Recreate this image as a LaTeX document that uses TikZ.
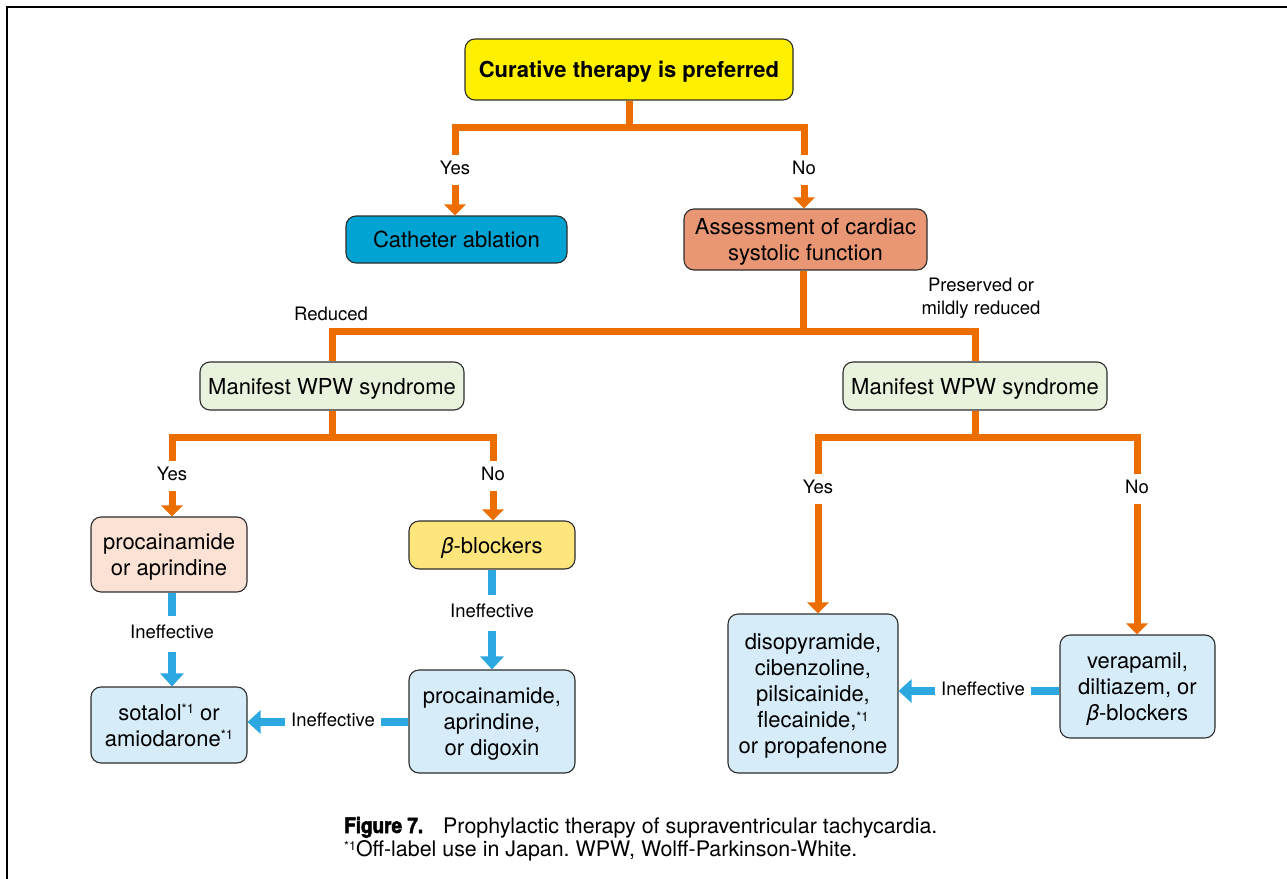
\documentclass[tikz,border=0pt]{standalone}
\usepackage{fontspec}
\setmainfont{TeX Gyre Heros}
\newfontfamily\figfont[FakeStretch=0.88,BoldFeatures={FakeBold=2.5}]{TeX Gyre Heros}
\usetikzlibrary{arrows.meta}
\frenchspacing

\definecolor{orangeC}{RGB}{236,110,0}
\definecolor{blueC}{RGB}{45,167,224}
\definecolor{boxline}{RGB}{45,45,45}
\definecolor{fillTop}{RGB}{255,240,0}
\definecolor{fillCath}{RGB}{0,163,210}
\definecolor{fillAssess}{RGB}{233,150,117}
\definecolor{fillGreen}{RGB}{232,242,221}
\definecolor{fillPeach}{RGB}{251,226,213}
\definecolor{fillBeta}{RGB}{254,229,124}
\definecolor{fillBlue}{RGB}{214,236,249}

% small raised "*1" footnote mark
\newcommand{\fnmk}{\raisebox{6.2pt}{\fontsize{13}{13}\selectfont *1}}
\newcommand{\capfnmk}{\raisebox{6pt}{\fontsize{12.5}{12.5}\selectfont *1}}

\tikzset{
  box/.style={draw=boxline, line width=1.1pt, rounded corners=10pt, align=center,
    inner sep=0pt, text depth=0pt, font=\fontsize{22}{26}\selectfont},
  lbl/.style={font=\fontsize{18.5}{23}\selectfont, inner xsep=6pt, inner ysep=6.5pt,
    text height=13.5pt, text depth=4pt},
  blbl/.style={lbl, inner ysep=9pt},
  freelbl/.style={font=\fontsize{18.5}{23}\selectfont, align=center, inner sep=0pt},
  oline/.style={draw=orangeC, line width=7pt, line join=miter},
  oarrow/.style={oline, -{Triangle[width=21pt,length=11pt]}},
  bline/.style={draw=blueC, line width=8.5pt},
  barrow/.style={bline, -{Triangle[width=23pt,length=13pt]}},
  captxt/.style={font=\fontsize{21.4}{23}\selectfont, inner sep=0pt, anchor=base west}
}

\begin{document}
\begin{tikzpicture}[x=1pt,y=-1pt]
\useasboundingbox (0,0) rectangle (1287,878);
% page frame
\draw[line width=2.6pt, line cap=rect] (7,878) -- (7,7) -- (1287,7);

% boxes
\node[box, fill=fillTop, minimum width=328pt, minimum height=61pt] (top) at (629,69.5)
  {\textbf{Curative therapy is preferred}};
\node[box, fill=fillCath, minimum width=221pt, minimum height=47pt] (cath) at (456.5,239.5)
  {Catheter ablation};
\node[box, fill=fillAssess, minimum width=243pt, minimum height=61pt] (assess) at (805.5,239.5)
  {Assessment of cardiac\\systolic function};
\node[box, fill=fillGreen, minimum width=264pt, minimum height=48pt] (wpwL) at (332,386)
  {Manifest WPW syndrome};
\node[box, fill=fillGreen, minimum width=264pt, minimum height=48pt] (wpwR) at (975,386)
  {Manifest WPW syndrome};
\node[box, fill=fillPeach, minimum width=156pt, minimum height=75pt] (proc) at (169,554.5)
  {procainamide\\or aprindine};
\node[box, fill=fillBeta, minimum width=166pt, minimum height=48pt] (beta) at (492,545)
  {\textit{β}-blockers};
\node[box, fill=fillBlue, minimum width=156pt, minimum height=76pt] (sot) at (169,725)
  {sotalol\fnmk{} or\\amiodarone\fnmk};
\node[box, fill=fillBlue, minimum width=166pt, minimum height=103pt] (pad) at (492,721.5)
  {procainamide,\\aprindine,\\or digoxin};
\node[box, fill=fillBlue, minimum width=170pt, minimum height=159pt] (diso) at (813,693.5)
  {disopyramide,\\cibenzoline,\\pilsicainide,\\flecainide,\fnmk\\or propafenone};
\node[box, fill=fillBlue, minimum width=155pt, minimum height=103pt] (vera) at (1137.5,686.5)
  {verapamil,\\diltiazem, or\\\textit{β}-blockers};

% branch labels
\node[lbl] (yes1) at (455,170) {Yes};
\node[lbl] (no1) at (804,170) {No};
\node[freelbl] (redu) at (331,314) {Reduced};
\node[freelbl] (pres) at (981,298) {Preserved or\\mildly reduced};
\node[lbl] (yes2) at (172,476) {Yes};
\node[lbl] (no2) at (493,476) {No};
\node[lbl] (yes3) at (818,489) {Yes};
\node[lbl] (no3) at (1137,489) {No};
\node[blbl] (inA) at (172,634) {Ineffective};
\node[blbl] (inB) at (492,613) {Ineffective};
\node[blbl] (inC) at (333,722) {Ineffective};
\node[blbl] (inD) at (983,691) {Ineffective};

% junction points
\coordinate (j1) at (629,127);
\coordinate (j2) at (803,331);
\coordinate (j3) at (332,437);
\coordinate (j4) at (975,437);

% orange decision tree
\draw[oline] (j1 |- top.south) -- (j1);
\draw[oline] (yes1.north) |- (j1) -| (no1.north);
\draw[oarrow] (yes1.south) -- (yes1.south |- cath.north);
\draw[oarrow] (no1.south) -- (no1.south |- assess.north);

\draw[oline] (j2 |- assess.south) -- (j2);
\draw[oline] (wpwL.north) |- (j2) -| (wpwR.north);

\draw[oline] (j3 |- wpwL.south) -- (j3);
\draw[oline] (yes2.north) |- (j3) -| (no2.north);
\draw[oarrow] (yes2.south) -- (yes2.south |- proc.north);
\draw[oarrow] (no2.south) -- (no2.south |- beta.north);

\draw[oline] (j4 |- wpwR.south) -- (j4);
\draw[oline] (yes3.north) |- (j4) -| (no3.north);
\draw[oarrow] (yes3.south) -- (yes3.south |- diso.north);
\draw[oarrow] (no3.south) -- (no3.south |- vera.north);

% blue escalation arrows
\draw[bline] (inA |- proc.south) -- (inA.north);
\draw[barrow] (inA.south) -- (inA |- sot.north);
\draw[bline] (inB |- beta.south) -- (inB.north);
\draw[barrow] (inB.south) -- (inB |- pad.north);
\draw[bline] (pad.west |- inC) -- (inC.east);
\draw[barrow] (inC.west) -- (inC -| sot.east);
\draw[bline] (vera.west |- inD) -- (inD.east);
\draw[barrow] (inD.west) -- (inD -| diso.east);

% caption
\node[captxt] (cap1) at (344,833)
  {\makebox[99pt][l]{\fontsize{21.5}{23}\figfont\bfseries Figure 7.}Prophylactic therapy of supraventricular tachycardia.};
\node[captxt] (cap2) at (344,856)
  {\capfnmk Off-label use in Japan. WPW, Wolff-Parkinson-White.};
\end{tikzpicture}
\end{document}
